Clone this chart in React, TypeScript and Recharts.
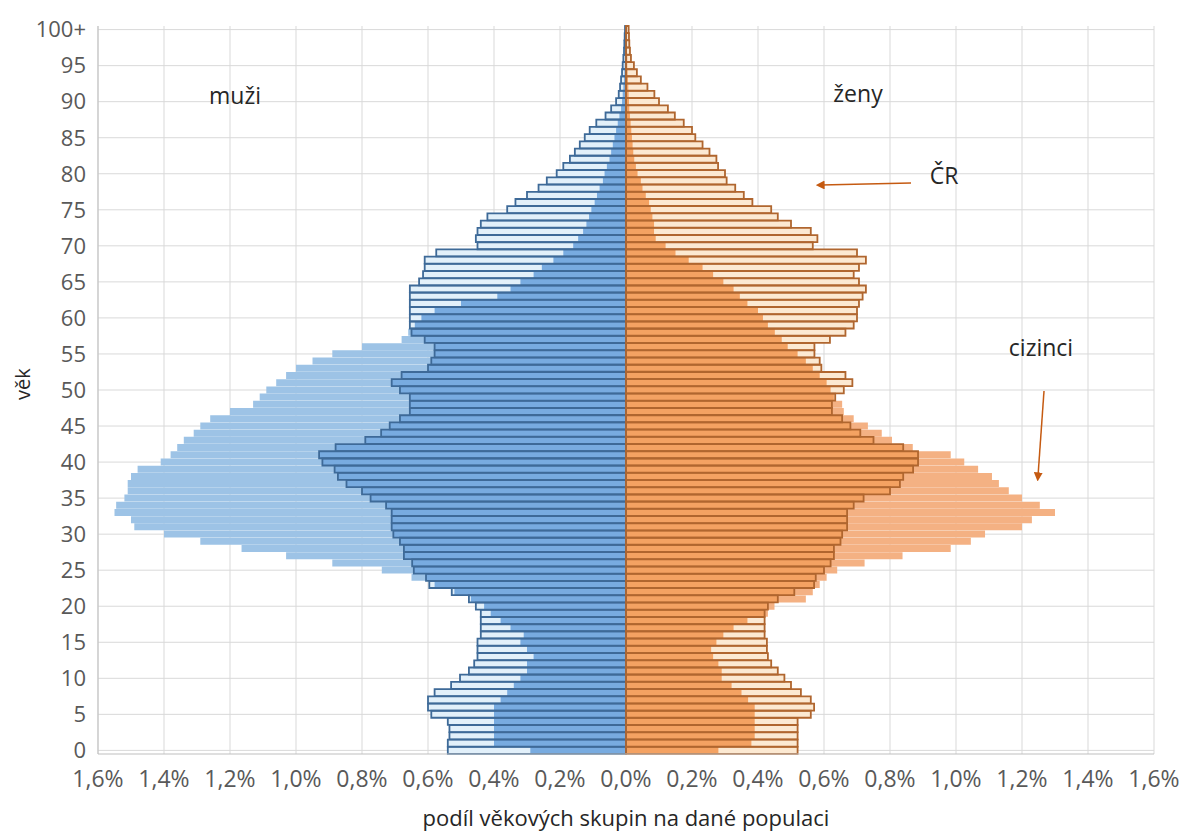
import React from 'react';
import { BarChart, Bar, XAxis, YAxis, CartesianGrid } from 'recharts';

// age groups 0..99 and 100+
const ages = Array.from({ length: 101 }, (_, i) => (i === 100 ? '100+' : String(i)));

// share of age group in the given population, % — ČR = whole Czech population
const menCR = [
  0.54, 0.54, 0.535, 0.535, 0.54, 0.59, 0.6, 0.6, 0.58, 0.53,
  0.503, 0.476, 0.46, 0.45, 0.45, 0.45, 0.44, 0.44, 0.44, 0.44,
  0.455, 0.476, 0.528, 0.596, 0.606, 0.643, 0.648, 0.673, 0.673, 0.685,
  0.705, 0.71, 0.71, 0.71, 0.727, 0.774, 0.8, 0.847, 0.873, 0.883,
  0.92, 0.93, 0.88, 0.79, 0.742, 0.716, 0.685, 0.655, 0.655, 0.655,
  0.685, 0.71, 0.68, 0.6, 0.59, 0.58, 0.58, 0.61, 0.65, 0.655,
  0.655, 0.655, 0.655, 0.655, 0.655, 0.627, 0.615, 0.61, 0.61, 0.575,
  0.45, 0.455, 0.45, 0.44, 0.42, 0.36, 0.335, 0.3, 0.265, 0.24,
  0.21, 0.19, 0.17, 0.155, 0.14, 0.125, 0.11, 0.09, 0.062, 0.045,
  0.03, 0.022, 0.018, 0.015, 0.012, 0.01, 0.008, 0.006, 0.005, 0.004,
  0.003,
];

const menForeign = [
  0.29, 0.4, 0.4, 0.4, 0.4, 0.4, 0.4, 0.38, 0.36, 0.34,
  0.32, 0.3, 0.3, 0.28, 0.3, 0.32, 0.31, 0.35, 0.38, 0.41,
  0.43, 0.47, 0.52, 0.58, 0.65, 0.74, 0.89, 1.03, 1.165, 1.29,
  1.4, 1.49, 1.5, 1.55, 1.545, 1.52, 1.51, 1.51, 1.5, 1.48,
  1.41, 1.38, 1.36, 1.34, 1.31, 1.29, 1.26, 1.2, 1.13, 1.11,
  1.09, 1.06, 1.03, 1.0, 0.95, 0.89, 0.8, 0.68, 0.66, 0.64,
  0.62, 0.58, 0.5, 0.39, 0.35, 0.32, 0.28, 0.255, 0.22, 0.19,
  0.16, 0.145, 0.13, 0.12, 0.112, 0.105, 0.095, 0.088, 0.08, 0.07,
  0.065, 0.058, 0.05, 0.045, 0.04, 0.035, 0.03, 0.025, 0.02, 0.015,
  0.012, 0.01, 0.008, 0.006, 0.005, 0.004, 0.003, 0.002, 0.002, 0.001,
  0.001,
];

const womenCR = [
  0.52, 0.52, 0.52, 0.52, 0.52, 0.56, 0.57, 0.56, 0.53, 0.5,
  0.48, 0.46, 0.44, 0.43, 0.427, 0.427, 0.42, 0.42, 0.42, 0.42,
  0.43, 0.46, 0.51, 0.57, 0.575, 0.6, 0.62, 0.63, 0.63, 0.65,
  0.655, 0.67, 0.67, 0.67, 0.69, 0.72, 0.8, 0.83, 0.84, 0.87,
  0.885, 0.885, 0.84, 0.75, 0.71, 0.68, 0.655, 0.624, 0.624, 0.634,
  0.66, 0.686, 0.665, 0.592, 0.587, 0.571, 0.571, 0.618, 0.665, 0.69,
  0.7, 0.7, 0.706, 0.717, 0.727, 0.706, 0.69, 0.706, 0.727, 0.7,
  0.566, 0.58, 0.56, 0.5, 0.46, 0.44, 0.383, 0.357, 0.331, 0.305,
  0.3, 0.279, 0.274, 0.253, 0.232, 0.21, 0.2, 0.175, 0.148, 0.127,
  0.1, 0.086, 0.065, 0.045, 0.033, 0.024, 0.015, 0.012, 0.01, 0.009,
  0.008,
];

const womenForeign = [
  0.28, 0.38, 0.39, 0.39, 0.39, 0.39, 0.39, 0.37, 0.35, 0.32,
  0.29, 0.29, 0.28, 0.264, 0.258, 0.274, 0.295, 0.326, 0.368, 0.43,
  0.45, 0.545, 0.566, 0.587, 0.608, 0.64, 0.723, 0.838, 0.984, 1.045,
  1.088, 1.2, 1.23, 1.3, 1.254, 1.2, 1.16, 1.13, 1.109, 1.067,
  1.025, 0.984, 0.869, 0.806, 0.775, 0.733, 0.69, 0.66, 0.655, 0.63,
  0.62, 0.608, 0.587, 0.566, 0.545, 0.52, 0.49, 0.472, 0.451, 0.43,
  0.415, 0.4, 0.368, 0.345, 0.326, 0.295, 0.264, 0.232, 0.19, 0.15,
  0.12, 0.09, 0.085, 0.085, 0.08, 0.075, 0.07, 0.06, 0.05, 0.045,
  0.035, 0.03, 0.025, 0.022, 0.02, 0.018, 0.016, 0.014, 0.012, 0.01,
  0.009, 0.008, 0.007, 0.006, 0.005, 0.004, 0.004, 0.003, 0.003, 0.002,
  0.002,
];

const xTicks = [-1.6, -1.4, -1.2, -1.0, -0.8, -0.6, -0.4, -0.2, 0, 0.2, 0.4, 0.6, 0.8, 1.0, 1.2, 1.4, 1.6];

// men to the left (negative), women to the right
const data = ages.map((age, i) => ({
  age,
  mFr: -menForeign[i],
  mCr: -menCR[i],
  mBoth: -Math.min(menForeign[i], menCR[i]),
  wFr: womenForeign[i],
  wCr: womenCR[i],
  wBoth: Math.min(womenForeign[i], womenCR[i]),
}));

const fmt = (v: number) => Math.abs(v).toFixed(1).replace('.', ',') + '%';
const font = "'Open Sans', sans-serif";
const arrow = '#C55A11';

export default function App() {
  const layers = ['fr', 'cr', 'both', 'line'];
  return (
    <div style={{ position: 'absolute', left: 0, top: 0, width: 1184, height: 832, fontFamily: font }}>
      <BarChart
        width={1184}
        height={832}
        data={data}
        layout="vertical"
        stackOffset="sign"
        barCategoryGap={0}
        barGap={0}
        margin={{ top: 26, right: 30, bottom: 0, left: 0 }}
      >
        <CartesianGrid stroke="#d9d9d9" yAxisId="fr" syncWithTicks />
        <XAxis
          type="number"
          domain={[-1.6, 1.6]}
          ticks={xTicks}
          tickFormatter={fmt}
          height={78}
          axisLine={{ stroke: '#bfbfbf' }}
          tickLine={false}
          tickMargin={11}
          tick={{ fill: '#595959', fontSize: 23, fontFamily: font }}
          label={{ value: 'podíl věkových skupin na dané populaci', position: 'insideBottom', offset: 6, fill: '#262626', fontSize: 22, fontFamily: font }}
        />
        {layers.map((id, k) => (
          <YAxis
            key={id}
            yAxisId={id}
            type="category"
            dataKey="age"
            reversed
            interval={4}
            hide={k > 0}
            width={k > 0 ? 0 : 98}
            axisLine={{ stroke: '#bfbfbf' }}
            tickLine={false}
            tickMargin={6}
            tick={{ fill: '#595959', fontSize: 22, fontFamily: font }}
          />
        ))}
        {/* cizinci */}
        <Bar yAxisId="fr" stackId="fr" dataKey="mFr" fill="#9DC3E6" isAnimationActive={false} />
        <Bar yAxisId="fr" stackId="fr" dataKey="wFr" fill="#F4B183" isAnimationActive={false} />
        {/* ČR fill */}
        <Bar yAxisId="cr" stackId="cr" dataKey="mCr" fill="#E2F0FA" isAnimationActive={false} />
        <Bar yAxisId="cr" stackId="cr" dataKey="wCr" fill="#FCE9D2" isAnimationActive={false} />
        {/* part shared by both populations */}
        <Bar yAxisId="both" stackId="both" dataKey="mBoth" fill="#78ABE0" isAnimationActive={false} />
        <Bar yAxisId="both" stackId="both" dataKey="wBoth" fill="#F4A262" isAnimationActive={false} />
        {/* ČR outline */}
        <Bar yAxisId="line" stackId="line" dataKey="mCr" fill="none" stroke="#3E6A98" strokeWidth={1.8} isAnimationActive={false} />
        <Bar yAxisId="line" stackId="line" dataKey="wCr" fill="none" stroke="#B0662F" strokeWidth={1.8} isAnimationActive={false} />
      </BarChart>
      <svg width={1184} height={832} style={{ position: 'absolute', left: 0, top: 0, pointerEvents: 'none' }}>
        <defs>
          <marker id="head" viewBox="0 0 10 10" refX="4" refY="5" markerWidth="6" markerHeight="6" orient="auto">
            <path d="M0,0 L10,5 L0,10 z" fill={arrow} />
          </marker>
        </defs>
        <g fontFamily={font} fontSize={23} fill="#262626">
          <text x={235} y={104} textAnchor="middle">muži</text>
          <text x={858} y={102} textAnchor="middle">ženy</text>
          <text x={944} y={184} textAnchor="middle">ČR</text>
          <text x={1041} y={356} textAnchor="middle">cizinci</text>
        </g>
        <text x={22} y={384} fontFamily={font} fontSize={20} fill="#262626" textAnchor="middle" dominantBaseline="central" transform="rotate(-90 22 384)">věk</text>
        <line x1={911} y1={183} x2={821} y2={185} stroke={arrow} strokeWidth={1.5} markerEnd="url(#head)" />
        <line x1={1044} y1={391} x2={1038} y2={476} stroke={arrow} strokeWidth={1.5} markerEnd="url(#head)" />
      </svg>
    </div>
  );
}
